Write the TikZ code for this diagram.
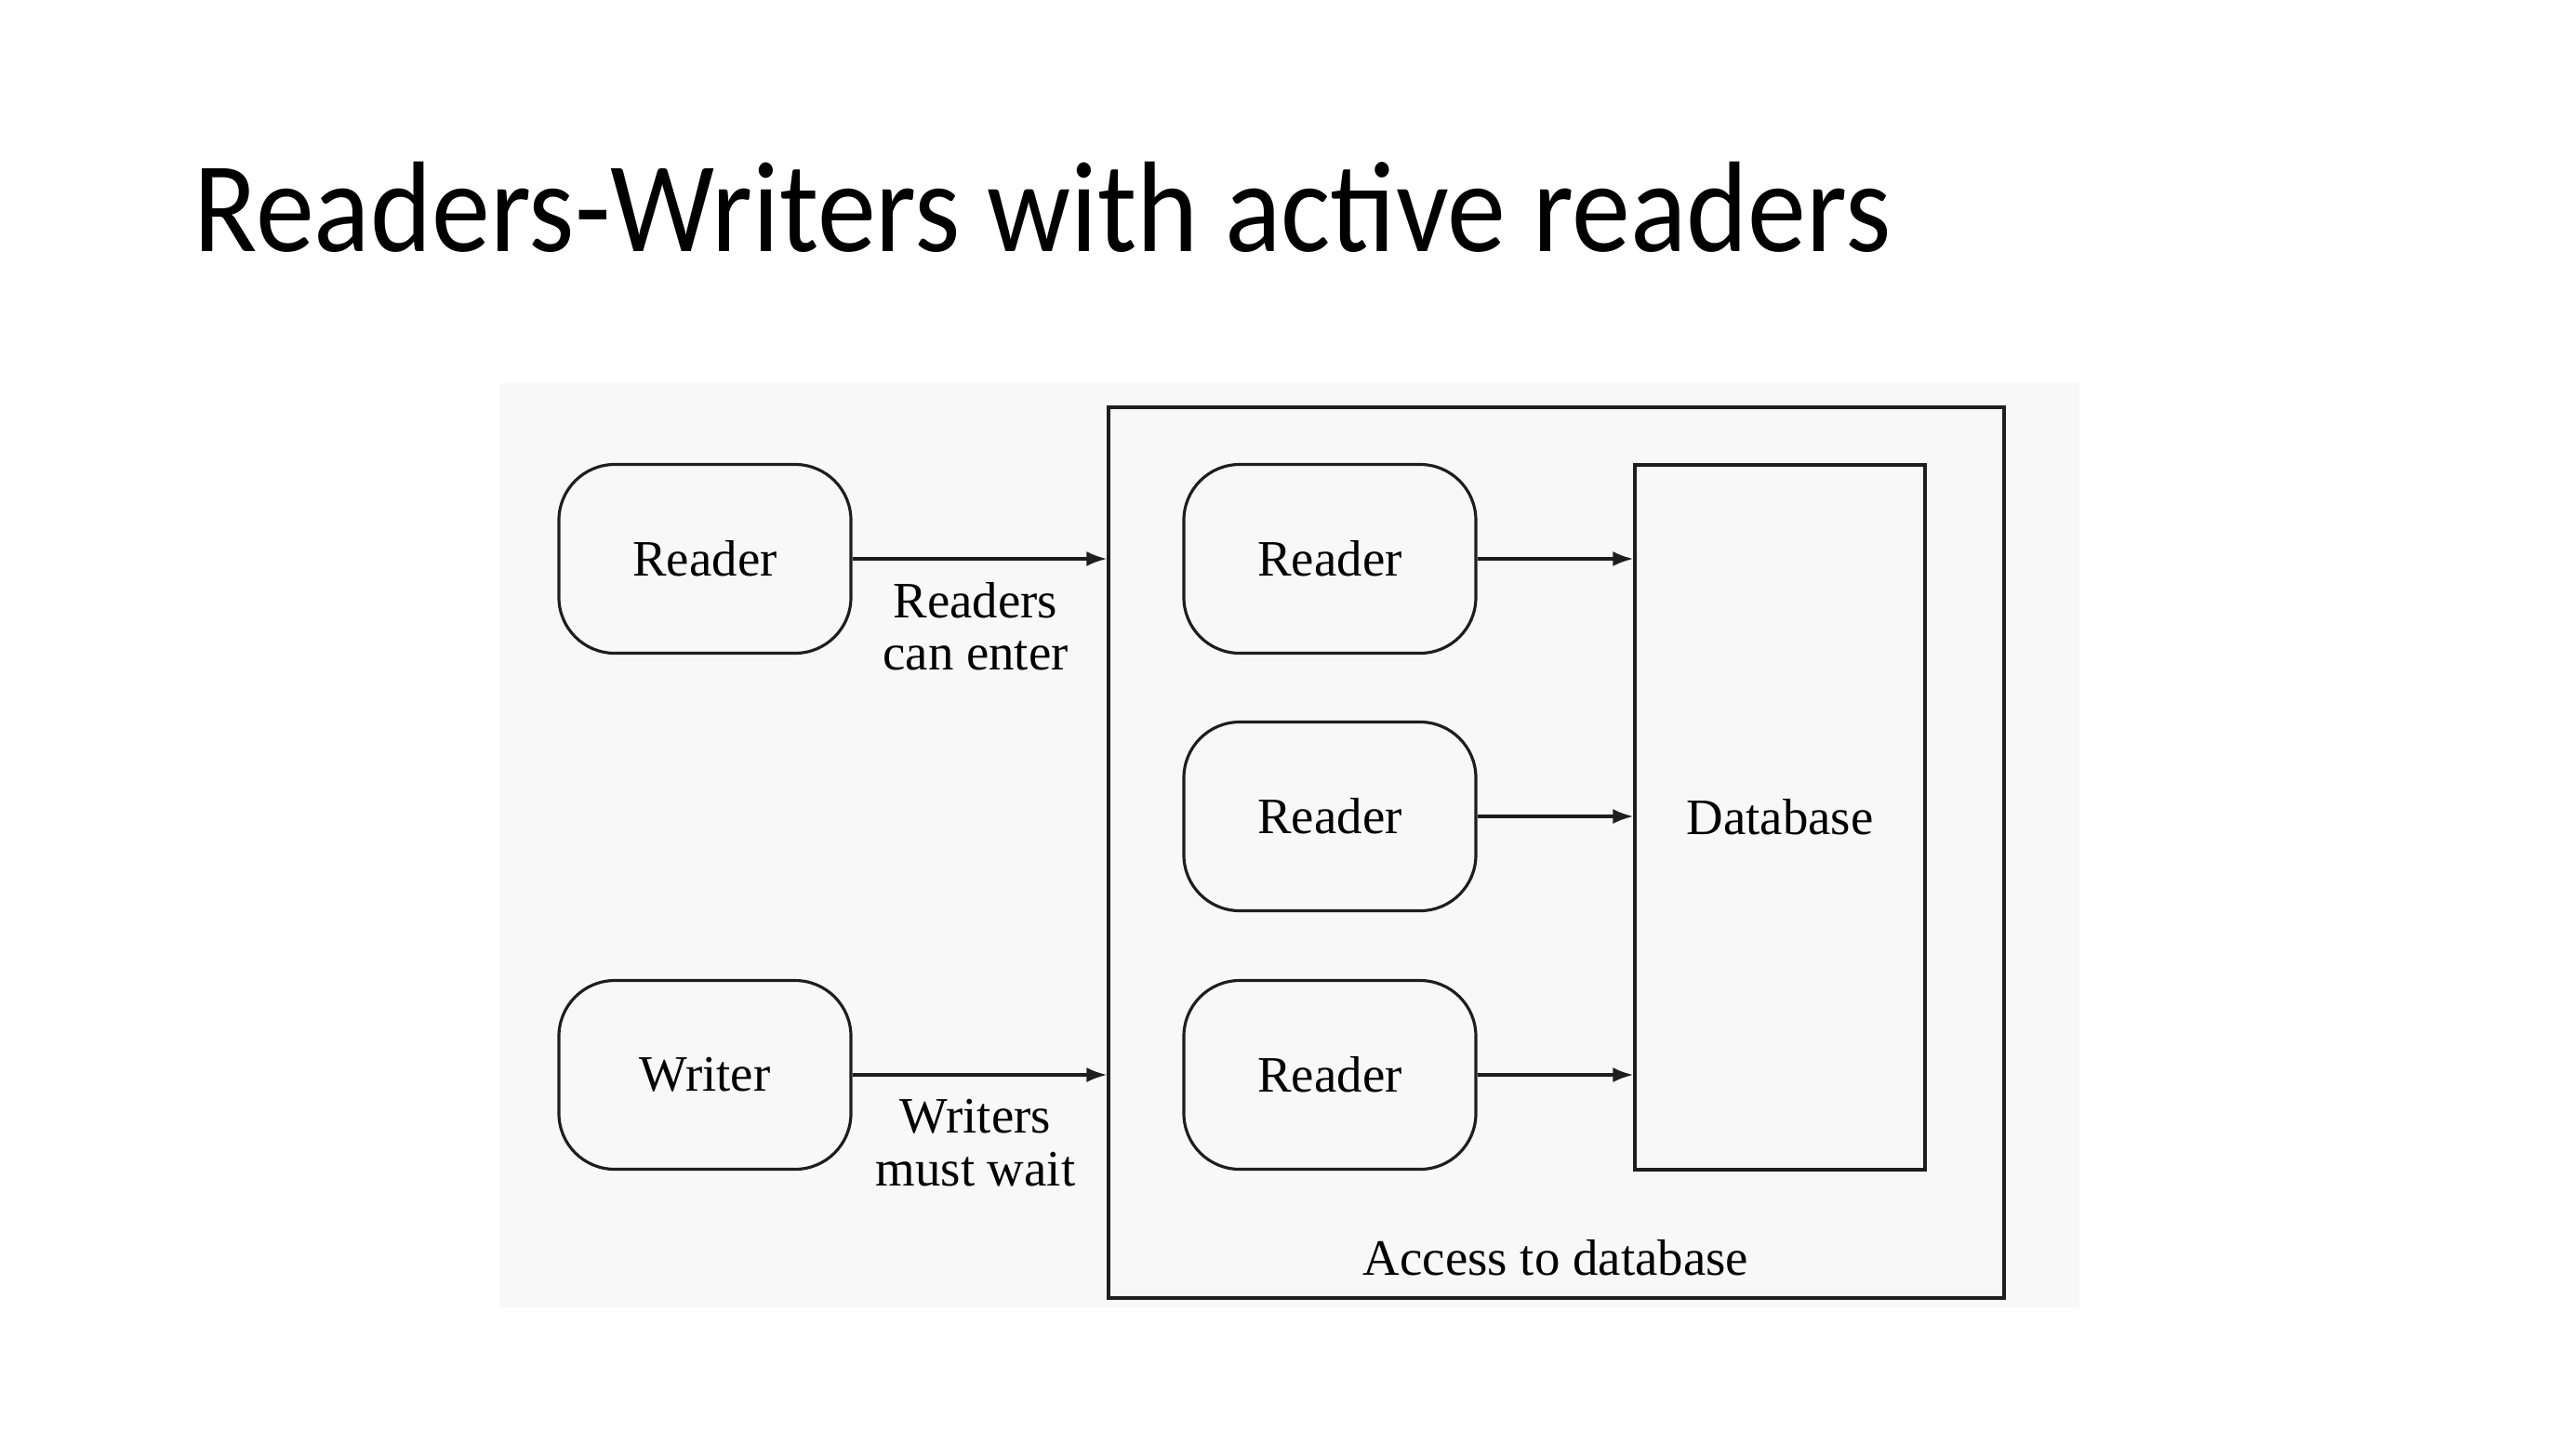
\documentclass[tikz,border=0pt]{standalone}
\usepackage{fontspec}
\setmainfont{Liberation Serif}
\newfontfamily\titlefont{Carlito}
\usetikzlibrary{arrows.meta}

\definecolor{panelgray}{HTML}{F8F8F8}
\definecolor{inkgray}{HTML}{1E1E1E}

\begin{document}
\begin{tikzpicture}[
    proc/.style={draw=inkgray, rectangle, rounded corners=0.6cm, minimum width=3.14cm, minimum height=2.03cm, align=center, font=\fontsize{15.6}{16}\selectfont, line width=0.9pt},
    store/.style={draw=inkgray, rectangle, minimum width=3.12cm, minimum height=7.58cm, align=center, font=\fontsize{15.6}{16}\selectfont, line width=0.9pt},
    lbl/.style={align=center, font=\fontsize{15.6}{16}\selectfont, inner sep=0pt},
    arrow/.style={-{Latex[length=2.2mm,width=1.6mm]}, line width=0.9pt, draw=inkgray, fill=inkgray},
]
\useasboundingbox (0,0) rectangle (27.70,-15.52);

% Título
\node[anchor=base west, inner sep=0pt, font=\titlefont\fontsize{39.5}{40}\selectfont] (title) at (2.08,-2.70) {\scalebox{0.908}[1]{Readers-Writers with active readers}};

% Fundo da figura
\fill[panelgray] (5.37,-4.12) rectangle (22.36,-14.06);

% Acesso ao banco
\node[draw=inkgray, rectangle, minimum width=9.63cm, minimum height=9.58cm, line width=0.9pt] (access) at (16.735,-9.17) {};
\node[lbl, anchor=base] (accesslbl) at (16.73,-13.71) {Access to database};
\node[store] (db) at (19.14,-8.79) {Database};

% Processos
\node[proc] (rdwait) at (7.58,-6.01) {Reader};
\node[proc] (wrwait) at (7.58,-11.56) {Writer};
\node[proc] (rdin1) at (14.30,-6.01) {Reader};
\node[proc] (rdin2) at (14.30,-8.78) {Reader};
\node[proc] (rdin3) at (14.30,-11.56) {Reader};

% Conexões
\draw[arrow] (rdwait) -- (rdwait -| access.west);
\draw[arrow] (wrwait) -- (wrwait -| access.west);
\draw[arrow] (rdin1) -- (rdin1 -| db.west);
\draw[arrow] (rdin2) -- (rdin2 -| db.west);
\draw[arrow] (rdin3) -- (rdin3 -| db.west);

\node[lbl] (enterlbl) at (10.49,-6.74) {Readers\\can enter};
\node[lbl] (waitlbl) at (10.49,-12.29) {Writers\\must wait};
\end{tikzpicture}
\end{document}
